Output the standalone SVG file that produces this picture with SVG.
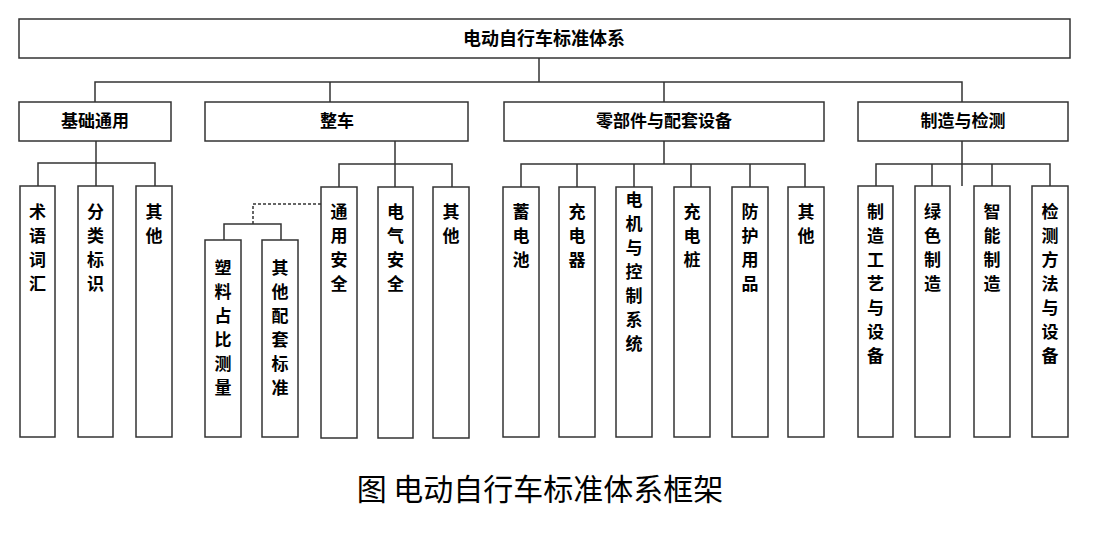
<svg xmlns="http://www.w3.org/2000/svg" width="1093" height="537" viewBox="0 0 1093 537">
<style>
rect{fill:#fff;stroke:#333;stroke-width:1.5}
.c line,.c polyline{stroke:#333;stroke-width:1.5;fill:none}
.d{stroke-dasharray:3,2}
text{font-family:"Noto Sans CJK SC","Liberation Sans",sans-serif;font-weight:bold;fill:#000;text-anchor:middle}
.t{font-size:18px}.m{font-size:17px}.v{font-size:17px}
.cap{font-size:30px;font-weight:normal}
</style>
<rect width="1093" height="537" style="fill:#fff;stroke:none"/>
<g class="c">
<line x1="539" y1="58" x2="539" y2="82"/>
<polyline points="95,102 95,82 962,82 962,102"/>
<line x1="330" y1="82" x2="330" y2="102"/>
<line x1="664" y1="82" x2="664" y2="102"/>
<line x1="96" y1="141" x2="96" y2="186"/>
<polyline points="38,186 38,163 155,163 155,186"/>
<line x1="395" y1="141" x2="395" y2="187"/>
<polyline points="339,187 339,164 452,164 452,187"/>
<polyline class="d" points="321,204 253,204 253,224"/>
<polyline points="224,240 224,224 281,224 281,240"/>
<line x1="664" y1="141" x2="664" y2="164"/>
<polyline points="521,187 521,164 805,164 805,187"/>
<line x1="577" y1="164" x2="577" y2="187"/>
<line x1="634" y1="164" x2="634" y2="187"/>
<line x1="691" y1="164" x2="691" y2="187"/>
<line x1="750" y1="164" x2="750" y2="187"/>
<line x1="962" y1="141" x2="962" y2="186"/>
<polyline points="876,186 876,164 1050,164 1050,186"/>
<line x1="932" y1="164" x2="932" y2="186"/>
<line x1="992" y1="164" x2="992" y2="186"/>
</g>
<g id="root"><rect x="19" y="19" width="1051" height="39"/><text class="t" x="544" y="45">电动自行车标准体系</text></g>
<g id="n1"><rect x="19" y="102" width="152" height="39"/><text class="m" x="95" y="127">基础通用</text></g>
<g id="n2"><rect x="205" y="102" width="263" height="39"/><text class="m" x="337" y="127">整车</text></g>
<g id="n3"><rect x="504" y="102" width="320" height="39"/><text class="m" x="664" y="127">零部件与配套设备</text></g>
<g id="n4"><rect x="858" y="102" width="210" height="39"/><text class="m" x="963" y="127">制造与检测</text></g>
<g id="l1"><rect x="20" y="186" width="35" height="251"/><text class="v" x="37.5" y="218"><tspan x="37.5">术</tspan><tspan x="37.5" dy="24">语</tspan><tspan x="37.5" dy="24">词</tspan><tspan x="37.5" dy="24">汇</tspan></text></g>
<g id="l2"><rect x="78" y="186" width="35" height="251"/><text class="v" x="95.5" y="218"><tspan x="95.5">分</tspan><tspan x="95.5" dy="24">类</tspan><tspan x="95.5" dy="24">标</tspan><tspan x="95.5" dy="24">识</tspan></text></g>
<g id="l3"><rect x="136" y="186" width="36" height="251"/><text class="v" x="154" y="218"><tspan x="154">其</tspan><tspan x="154" dy="24">他</tspan></text></g>
<g id="l4"><rect x="205" y="240" width="36" height="197"/><text class="v" x="223" y="274"><tspan x="223">塑</tspan><tspan x="223" dy="24">料</tspan><tspan x="223" dy="24">占</tspan><tspan x="223" dy="24">比</tspan><tspan x="223" dy="24">测</tspan><tspan x="223" dy="24">量</tspan></text></g>
<g id="l5"><rect x="262" y="240" width="36" height="197"/><text class="v" x="280" y="274"><tspan x="280">其</tspan><tspan x="280" dy="24">他</tspan><tspan x="280" dy="24">配</tspan><tspan x="280" dy="24">套</tspan><tspan x="280" dy="24">标</tspan><tspan x="280" dy="24">准</tspan></text></g>
<g id="l6"><rect x="321" y="187" width="36" height="251"/><text class="v" x="339" y="218"><tspan x="339">通</tspan><tspan x="339" dy="24">用</tspan><tspan x="339" dy="24">安</tspan><tspan x="339" dy="24">全</tspan></text></g>
<g id="l7"><rect x="378" y="187" width="35" height="251"/><text class="v" x="395.5" y="218"><tspan x="395.5">电</tspan><tspan x="395.5" dy="24">气</tspan><tspan x="395.5" dy="24">安</tspan><tspan x="395.5" dy="24">全</tspan></text></g>
<g id="l8"><rect x="433" y="187" width="36" height="251"/><text class="v" x="451" y="218"><tspan x="451">其</tspan><tspan x="451" dy="24">他</tspan></text></g>
<g id="l9"><rect x="503" y="187" width="36" height="250"/><text class="v" x="521" y="218"><tspan x="521">蓄</tspan><tspan x="521" dy="24">电</tspan><tspan x="521" dy="24">池</tspan></text></g>
<g id="l10"><rect x="559" y="187" width="36" height="250"/><text class="v" x="577" y="218"><tspan x="577">充</tspan><tspan x="577" dy="24">电</tspan><tspan x="577" dy="24">器</tspan></text></g>
<g id="l11"><rect x="616" y="187" width="36" height="250"/><text class="v" x="634" y="206"><tspan x="634">电</tspan><tspan x="634" dy="24">机</tspan><tspan x="634" dy="24">与</tspan><tspan x="634" dy="24">控</tspan><tspan x="634" dy="24">制</tspan><tspan x="634" dy="24">系</tspan><tspan x="634" dy="24">统</tspan></text></g>
<g id="l12"><rect x="674" y="187" width="36" height="250"/><text class="v" x="692" y="218"><tspan x="692">充</tspan><tspan x="692" dy="24">电</tspan><tspan x="692" dy="24">桩</tspan></text></g>
<g id="l13"><rect x="732" y="187" width="36" height="250"/><text class="v" x="750" y="218"><tspan x="750">防</tspan><tspan x="750" dy="24">护</tspan><tspan x="750" dy="24">用</tspan><tspan x="750" dy="24">品</tspan></text></g>
<g id="l14"><rect x="788" y="187" width="36" height="250"/><text class="v" x="806" y="218"><tspan x="806">其</tspan><tspan x="806" dy="24">他</tspan></text></g>
<g id="l15"><rect x="858" y="186" width="35" height="251"/><text class="v" x="875.5" y="218"><tspan x="875.5">制</tspan><tspan x="875.5" dy="24">造</tspan><tspan x="875.5" dy="24">工</tspan><tspan x="875.5" dy="24">艺</tspan><tspan x="875.5" dy="24">与</tspan><tspan x="875.5" dy="24">设</tspan><tspan x="875.5" dy="24">备</tspan></text></g>
<g id="l16"><rect x="915" y="186" width="35" height="251"/><text class="v" x="932.5" y="218"><tspan x="932.5">绿</tspan><tspan x="932.5" dy="24">色</tspan><tspan x="932.5" dy="24">制</tspan><tspan x="932.5" dy="24">造</tspan></text></g>
<g id="l17"><rect x="974" y="186" width="36" height="251"/><text class="v" x="992" y="218"><tspan x="992">智</tspan><tspan x="992" dy="24">能</tspan><tspan x="992" dy="24">制</tspan><tspan x="992" dy="24">造</tspan></text></g>
<g id="l18"><rect x="1032" y="186" width="36" height="251"/><text class="v" x="1050" y="218"><tspan x="1050">检</tspan><tspan x="1050" dy="24">测</tspan><tspan x="1050" dy="24">方</tspan><tspan x="1050" dy="24">法</tspan><tspan x="1050" dy="24">与</tspan><tspan x="1050" dy="24">设</tspan><tspan x="1050" dy="24">备</tspan></text></g>
<text class="cap" x="540" y="500">图 电动自行车标准体系框架</text>
</svg>
